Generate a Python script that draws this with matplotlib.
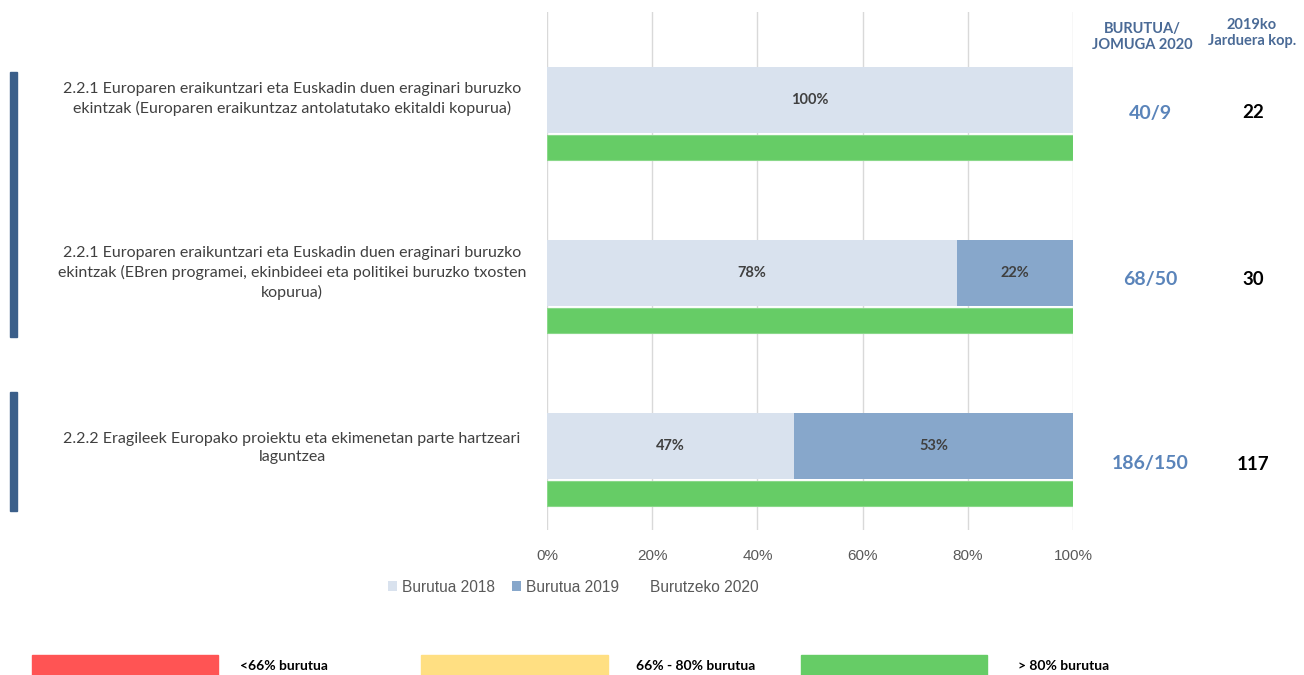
import matplotlib.pyplot as plt
from matplotlib.patches import Rectangle, Patch

# data
labels = [
    "2.2.1 Europaren eraikuntzari eta Euskadin duen eraginari buruzko\nekintzak (Europaren eraikuntzaz antolatutako ekitaldi kopurua)",
    "2.2.1 Europaren eraikuntzari eta Euskadin duen eraginari buruzko\nekintzak (EBren programei, ekinbideei eta politikei buruzko txosten\nkopurua)",
    "2.2.2 Eragileek Europako proiektu eta ekimenetan parte hartzeari\nlaguntzea",
]
burutua_2018 = [100, 78, 47]
burutua_2019 = [0, 22, 53]
burutzeko_2020 = [100, 100, 100]
burutua_jomuga = ["40/9", "68/50", "186/150"]
jarduera_2019 = ["22", "30", "117"]
key_labels = ["<66% burutua", "66% - 80% burutua", "> 80% burutua"]
key_colors = ["#FF5454", "#FFDF82", "#66CC66"]

C18 = "#D9E2EE"
C19 = "#87A7CB"
C20 = "#66CC66"

W, H = 1304, 675
fig = plt.figure(figsize=(W / 100, H / 100), dpi=100)


def fx(x):
    return x / W


def fy(y):
    return 1 - y / H


ax = fig.add_axes([fx(547), fy(530), fx(1073) - fx(547), fy(12) - fy(530)])

ys = list(range(len(labels)))
y_light = [y - 0.139 for y in ys]
y_green = [y + 0.136 for y in ys]

ax.barh(y_light, burutua_2018, height=0.38, color=C18, zorder=2)
ax.barh(y_light, burutua_2019, left=burutua_2018, height=0.38, color=C19, zorder=2)
ax.barh(y_green, burutzeko_2020, height=0.145, color=C20, edgecolor="#8AD88A",
        linewidth=0.8, zorder=2)

for y, a, b in zip(y_light, burutua_2018, burutua_2019):
    if a > 0:
        ax.text(a / 2, y, f"{a}%", ha="center", va="center", fontsize=10.5,
                fontweight="bold", color="#404040", family="Lato")
    if b > 0:
        ax.text(a + b / 2, y, f"{b}%", ha="center", va="center", fontsize=10.5,
                fontweight="bold", color="#404040", family="Lato")

ax.set_xlim(0, 100)
ax.set_ylim(2.347, -0.647)
ax.set_xticks([0, 20, 40, 60, 80, 100])
ax.set_xticklabels([f"{t}%" for t in [0, 20, 40, 60, 80, 100]])
ax.set_yticks([])
ax.tick_params(axis="x", length=0, pad=14, labelsize=11, labelcolor="#595959")
for lbl in ax.get_xticklabels():
    lbl.set_family("Liberation Sans")
ax.grid(axis="x", color="#D9D9D9", linewidth=1, zorder=0)
for s in ax.spines.values():
    s.set_visible(False)

# category labels
label_y = [99, 273, 448]
for lab, y in zip(labels, label_y):
    fig.text(fx(292), fy(y), lab, ha="center", va="center", fontsize=11.5,
             color="#404040", family="Lato", linespacing=1.4)

# left group bars
for y0, y1 in [(72, 337), (392, 511)]:
    fig.patches.append(Rectangle((fx(10), fy(y1)), fx(7), fy(y0) - fy(y1),
                                 transform=fig.transFigure, color="#3B5F8A"))

# right columns
fig.text(fx(1142), fy(37), "BURUTUA/\nJOMUGA 2020", ha="center", va="center",
         fontsize=10.5, fontweight="bold", color="#4A6A96", family="Lato",
         linespacing=1.25)
fig.text(fx(1252), fy(33), "2019ko\nJarduera kop.", ha="center", va="center",
         fontsize=10.5, fontweight="bold", color="#4A6A96", family="Lato",
         linespacing=1.25)
val_y = [113, 280, 464]
for v, j, y in zip(burutua_jomuga, jarduera_2019, val_y):
    fig.text(fx(1150), fy(y), v, ha="center", va="center", fontsize=14,
             fontweight="bold", color="#5A84BA", family="Lato")
    fig.text(fx(1253), fy(y), j, ha="center", va="center", fontsize=13.5,
             fontweight="bold", color="black", family="Lato")

# legend
handles = [Patch(facecolor=C18), Patch(facecolor=C19), Patch(facecolor="none", edgecolor="none")]
fig.legend(handles, ["Burutua 2018", "Burutua 2019", "Burutzeko 2020"],
           loc="center left", bbox_to_anchor=(fx(374), fy(587)), ncol=3,
           frameon=False, handlelength=0.6, handleheight=0.6, handletextpad=0.3,
           columnspacing=1.1, prop={"family": "Liberation Sans", "size": 11.2},
           labelcolor="#595959")

# color key
for (x0, x1, tx), lab, col in zip([(32, 218, 240), (421, 608, 636), (801, 987, 1018)],
                                  key_labels, key_colors):
    fig.patches.append(Rectangle((fx(x0), fy(676)), fx(x1 - x0), fy(655) - fy(676),
                                 transform=fig.transFigure, color=col))
    fig.text(fx(tx), fy(666), lab, ha="left", va="center", fontsize=10,
             fontweight="bold", color="black", family="Lato")

fig.savefig("out.png", dpi=100)
